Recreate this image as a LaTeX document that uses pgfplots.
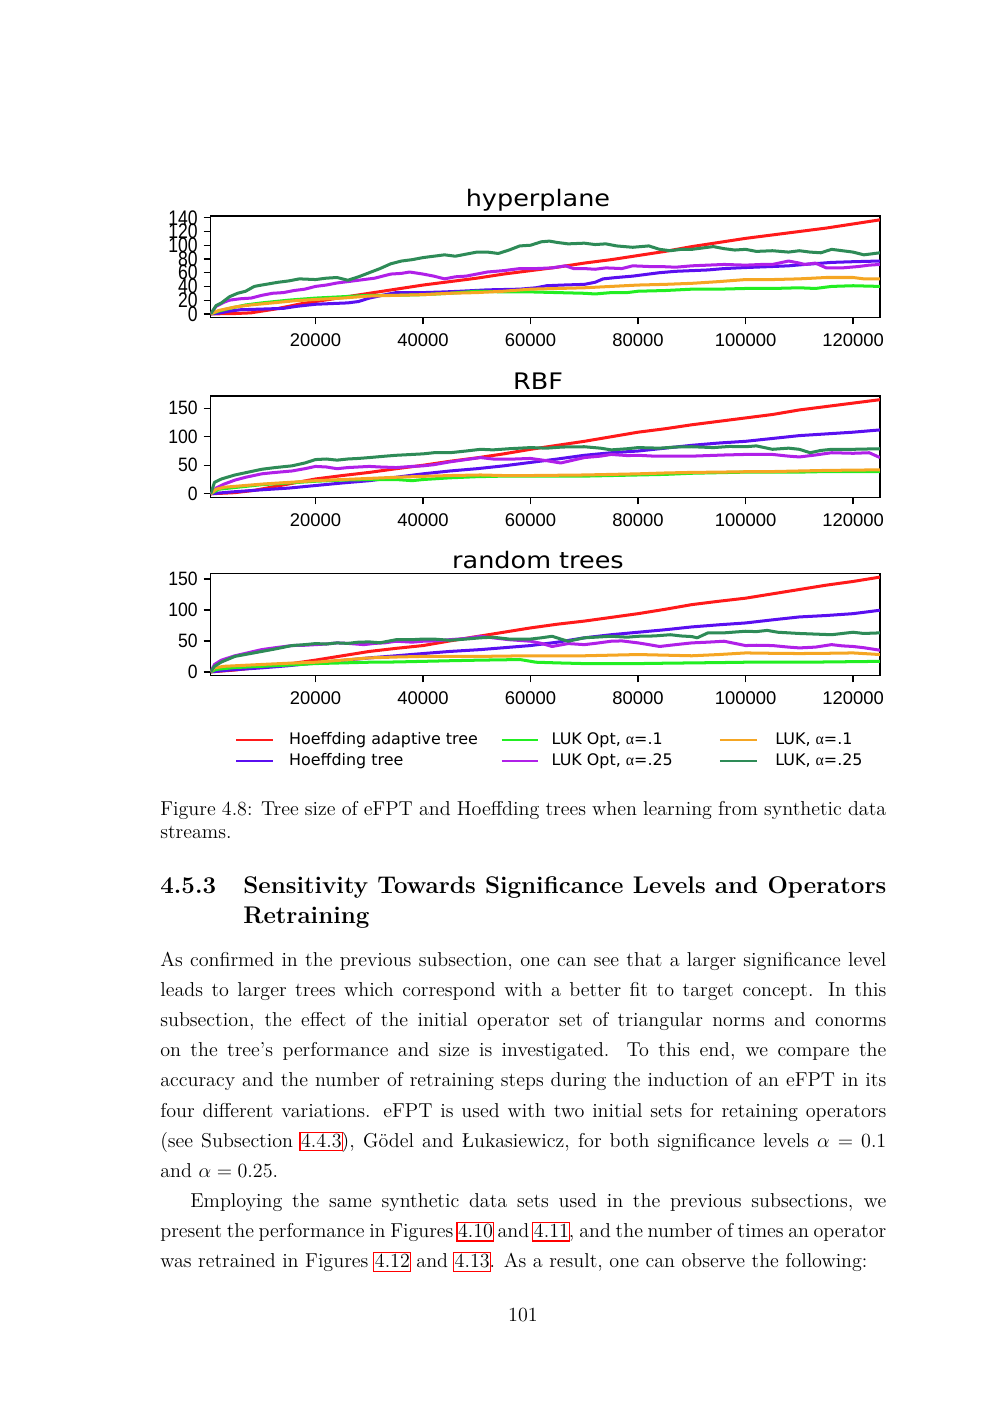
\documentclass[border=0pt]{standalone}
\usepackage{pgfplots}
\pgfplotsset{compat=1.18}
\usepackage{fontspec}
\newfontfamily\dejavu{DejaVu Sans}
\newfontfamily\libsans{Liberation Sans}
\newfontfamily\libserif{Liberation Serif}
\definecolor{cRed}{HTML}{FF1A1A}
\definecolor{cBlue}{HTML}{5A0FF0}
\definecolor{cGreen}{HTML}{22EE22}
\definecolor{cPurple}{HTML}{B020E8}
\definecolor{cOrange}{HTML}{F5A623}
\definecolor{cTeal}{HTML}{2E8B57}
\newcommand\lk[1]{\makebox[0pt][l]{\hspace{-1pt}\textcolor{red}{\fboxsep=0.2pt\fboxrule=0.7pt\fbox{\rule[-1.5pt]{0pt}{10pt}\phantom{#1}}}}#1}
\newcommand\jline[4]{\node[anchor=base west,inner sep=0pt] at (#1pt,-#2pt) {\fontsize{12}{14.5}\selectfont\makebox[#3pt][s]{#4}};}
\newcommand\pline[3]{\node[anchor=base west,inner sep=0pt] at (#1pt,-#2pt) {\fontsize{12}{14.5}\selectfont #3};}
\pgfplotsset{
  myax/.style={scale only axis, width=399.9pt, xmin=500, xmax=125000,
    axis line style={line width=0.75pt},
    every tick/.style={black,line width=0.75pt},
    tick align=outside, tick pos=left, major tick length=4.2pt,
    xtick={20000,40000,60000,80000,100000,120000},
    xticklabels={20000,40000,60000,80000,100000,120000},
    xticklabel style={font=\libsans\fontsize{11}{12}\selectfont, yshift=-1.8pt},
    yticklabel style={font=\libsans\fontsize{10.5}{12}\selectfont},
    title style={at={(0.489,1)}, anchor=base, font=\dejavu\fontsize{13.6}{15}\selectfont, xscale=1.12},
    every axis plot/.append style={line width=1.8pt, line join=round, mark=none},
    scaled x ticks=false, clip=true}
}
\begin{document}
\begin{tikzpicture}
\path[use as bounding box] (0,0) rectangle (597.5pt,-844.9pt);
% ---------------- hyperplane
\begin{axis}[myax, at={(125.9pt,-189.6pt)}, anchor=south west, height=60.5pt,
  ymin=-5, ymax=142.5, ytick={0,20,40,60,80,100,120,140},
  yticklabels={0,20,40,60,80,100,120,140}, yticklabel style={yscale=1.2},
  title={hyperplane}, title style={yshift=0pt}]
\addplot[cRed] coordinates {(500,0) (5000,0.5) (8000,1.5) (10000,4) (12500,7) (15000,11) (17500,15) (20000,18) (25000,24) (30000,30) (35000,36) (40000,42) (45000,47) (50000,52) (52500,55) (55000,58) (60000,63) (65000,68) (70000,74) (75000,79) (80000,85) (85000,91) (90000,98) (95000,104) (100000,110) (105000,115) (110000,120) (115000,125) (120000,131) (125000,137)};
\addplot[cBlue] coordinates {(500,0) (2000,1) (4000,4) (6000,6) (10000,7) (14000,8) (16500,11) (20000,14) (23000,15) (26000,16) (28000,18) (30000,23) (33000,28) (35000,31) (40000,31) (44000,32) (47000,33) (52000,35) (58000,36) (61000,38) (63000,41) (66000,42) (70000,43) (72000,46) (73500,51) (76000,53) (79000,55) (82000,58) (84000,60) (87000,62) (90000,63) (93000,64) (96000,66) (100000,67.5) (105000,69) (108000,70) (111000,72) (116000,75) (120000,76) (125000,77)};
\addplot[cGreen] coordinates {(500,0) (2000,4) (4000,8) (7000,13) (10000,16) (15000,20) (20000,23) (25000,25) (30000,27) (35000,27) (40000,28) (45000,30) (50000,33) (55000,32) (60000,32) (65000,31) (70000,30) (72000,29) (75000,31) (78000,31) (80000,33) (85000,34) (90000,36) (95000,36) (100000,37) (105000,37) (110000,38) (113000,37) (116000,40) (120000,41) (125000,40)};
\addplot[cPurple] coordinates {(500,0) (1500,11) (3000,17) (4000,20) (6000,22) (8000,23) (10000,27) (12000,30) (14000,31) (16000,34) (18000,36) (20000,40) (22000,42) (24000,45) (26000,47) (29000,50) (31000,52) (34000,58) (36000,59) (37500,61) (40000,58) (42000,55) (44000,51) (46000,54) (48000,55) (50000,58) (52000,61) (55000,63) (58000,66) (61000,66) (64000,67) (66500,70) (68000,66) (70000,66) (72000,65) (74000,67) (77000,66) (79000,70) (82000,69) (84000,69) (87000,68) (90000,70) (93000,71) (96000,72) (100000,71) (103000,72) (105000,72) (108000,77) (110000,74) (111000,72) (113000,74) (115000,67) (118000,67) (121000,69) (123000,71) (125000,72)};
\addplot[cOrange] coordinates {(500,0) (2000,5) (5000,10) (8000,13) (12000,16) (16000,19) (20000,21) (25000,23) (30000,26) (35000,27) (40000,28) (45000,30) (50000,31) (55000,33) (60000,36) (65000,37) (70000,38) (75000,40) (80000,42) (85000,43) (90000,44.5) (95000,47) (100000,50) (105000,50) (110000,51) (115000,53) (120000,53) (122000,51) (125000,51)};
\addplot[cTeal] coordinates {(500,0) (1500,12) (2500,16) (4000,25) (5500,30) (7000,33) (8600,40) (10000,42) (13000,46) (15000,48) (17000,51) (20000,50) (22000,52) (24000,53) (26000,49) (28000,54) (30000,60) (32000,66) (34000,73) (36000,77) (38000,79) (40000,82) (42000,84) (44000,86) (46000,84) (48000,87) (50000,90) (52000,90) (54000,88) (56000,93) (58000,99) (60000,100) (62000,105) (63500,106) (65000,104) (67000,102) (70000,103) (72000,101) (74000,102) (76000,99) (79000,97) (82000,99) (84000,94) (86000,92) (88000,94) (90000,94) (92000,96) (94000,98) (96000,95) (98000,93) (100000,94) (102000,91) (105000,92) (108000,90) (110000,92) (112000,90) (114000,89) (116000,94) (118000,92) (120000,90) (122000,86) (125000,89)};
\end{axis}
% ---------------- RBF
\begin{axis}[myax, at={(125.9pt,-297.1pt)}, anchor=south west, height=60.5pt,
  ymin=-6, ymax=171.5, ytick={0,50,100,150}, yticklabels={0,50,100,150},
  yticklabel style={yscale=1.1},
  title={RBF}, title style={yshift=-2.4pt}]
\addplot[cRed] coordinates {(500,0) (5000,2) (8600,6) (12000,12) (16000,19) (20000,26) (25000,32) (30000,37.5) (35000,44) (40000,50) (45000,57) (50000,63) (55000,70) (60000,78) (65000,85) (70000,92) (75000,100) (80000,108) (85000,114) (90000,121) (95000,127) (100000,133) (105000,139) (110000,147) (115000,153) (120000,159) (125000,165)};
\addplot[cBlue] coordinates {(500,0) (4000,3) (10000,7) (15000,10) (20000,14.5) (25000,19) (30000,23) (35000,29) (40000,35) (45000,40) (50000,44) (55000,49) (60000,55) (65000,61) (70000,67.5) (75000,72) (80000,75) (85000,80) (90000,85) (95000,89) (100000,92) (105000,97) (110000,102) (115000,105) (120000,108) (125000,112)};
\addplot[cGreen] coordinates {(500,0) (2000,8) (5000,11) (10000,16) (15000,19) (20000,22) (25000,24) (30000,25) (35000,25) (38000,23) (40000,25) (45000,28) (50000,30) (55000,31) (60000,31) (65000,31) (70000,31) (75000,32) (80000,33) (85000,34) (90000,36) (95000,37) (100000,38) (105000,38) (110000,38) (115000,39) (120000,39) (125000,39)};
\addplot[cPurple] coordinates {(500,0) (1500,10) (3000,17) (5000,24) (7000,29) (10000,35) (12000,37) (15600,40) (18000,44) (20000,48) (22000,47) (24000,44) (26000,46) (28000,47) (30000,48) (32000,47) (35000,46) (38000,48) (40000,49) (42000,51) (45000,56) (48000,60) (50700,63.5) (53000,61) (56000,60.6) (60000,62) (63000,58) (65600,54) (67000,57) (70000,63.5) (73000,66) (75000,69) (78000,67) (80000,67.5) (83000,66) (86000,66) (90000,66) (93000,67) (96000,68) (100000,69) (103000,69) (105000,69) (108000,66) (110000,64.6) (113000,68) (116000,72) (120000,71) (123000,72) (125000,63.5)};
\addplot[cOrange] coordinates {(500,0) (1500,8) (3000,11.5) (10000,17) (15000,20) (20000,23) (25000,25) (30000,27) (35000,29) (40000,30.6) (45000,32) (50700,33) (55000,32) (60000,32) (65000,32.5) (70000,33) (75000,34) (80000,35) (85000,36.5) (90000,37.5) (95000,38) (100000,38.7) (105000,39) (110000,40) (115000,41) (120000,41.5) (125000,42)};
\addplot[cTeal] coordinates {(500,0) (1200,20) (2500,26) (5000,33) (7500,38) (10000,43) (12500,46) (15600,49) (18000,54) (20000,60) (22000,61) (24000,59) (26000,61) (28000,62) (30000,63.5) (33000,66) (35000,67.5) (38000,69) (40000,70) (42000,72) (45000,72) (48000,75) (50700,78) (53000,77) (56000,79) (60000,81) (63000,80) (66000,82) (70000,82.5) (73000,80) (75000,77) (78000,79) (80000,81) (84000,80) (87000,82) (90000,82.5) (94000,81) (97000,83) (100000,82.5) (102000,84) (105000,78) (108000,80) (110000,78) (112000,72) (114000,76) (116000,78) (120000,78) (125000,79)};
\end{axis}
% ---------------- random trees
\begin{axis}[myax, at={(125.9pt,-403.5pt)}, anchor=south west, height=60.7pt,
  ymin=-5.5, ymax=158.5, ytick={0,50,100,150}, yticklabels={0,50,100,150},
  yticklabel style={yscale=1.1},
  title={random trees}, title style={yshift=-2.8pt},
  legend columns=3, legend cell align=left,
  legend image code/.code={\draw[#1, line width=1.2pt] (0pt,0pt) -- (22pt,0pt);},
  legend style={at={(0.0363,-0.561)}, anchor=north west, draw=none, fill=none,
    inner sep=0pt, nodes={inner sep=0pt}, row sep=4pt,
    font=\dejavu\fontsize{9.5}{11}\selectfont,
    /tikz/column 1/.style={column sep=9.0pt},
    /tikz/column 2/.style={column sep=13.5pt},
    /tikz/column 3/.style={column sep=7.4pt},
    /tikz/column 4/.style={column sep=27.6pt},
    /tikz/column 5/.style={column sep=10.5pt}}]
\addlegendimage{cRed}\addlegendentry{Hoeffding adaptive tree}
\addlegendimage{cGreen}\addlegendentry{LUK Opt, {\libserif α}=.1}
\addlegendimage{cOrange}\addlegendentry{LUK, {\libserif α}=.1}
\addlegendimage{cBlue}\addlegendentry{Hoeffding tree}
\addlegendimage{cPurple}\addlegendentry{LUK Opt, {\libserif α}=.25}
\addlegendimage{cTeal}\addlegendentry{LUK, {\libserif α}=.25}
\addplot[cRed, forget plot] coordinates {(500,0) (5000,3) (8600,6.5) (12000,10) (16000,14) (20000,19) (25000,26) (30000,33) (35000,38) (40000,42.5) (45000,50) (50000,57) (55000,64) (60000,71) (65000,77) (70000,82) (75000,88) (80000,94) (85000,101) (90000,108.6) (95000,114) (100000,119) (105000,126) (110000,133) (115000,140) (120000,146) (125000,153)};
\addplot[cBlue, forget plot] coordinates {(500,0) (4000,3) (10000,6.5) (15000,10) (20000,14.5) (25000,18.5) (30000,22.6) (35000,26) (40000,29.6) (45000,33) (50700,36) (55000,39) (60000,42.5) (65000,48) (70000,55) (75000,60) (80000,64) (85000,68) (90000,72.6) (95000,76) (100000,79) (105000,84) (110000,88.7) (115000,91) (120000,94) (125000,99.5)};
\addplot[cGreen, forget plot] coordinates {(500,0) (1500,4) (5000,7) (10000,9) (15000,11) (20000,13.4) (25000,14.5) (30000,15.6) (35000,16) (40000,17) (45000,18) (50700,19) (55000,19.5) (58000,20) (61000,15.6) (65000,14.5) (70000,13.4) (75000,13.4) (80000,13.4) (85000,14) (90000,14.5) (95000,15) (100000,15.6) (105000,15.6) (110000,15.6) (115000,16) (120000,16.5) (125000,17)};
\addplot[cPurple, forget plot] coordinates {(500,0) (1200,12) (2500,19) (5000,26) (7500,31) (10000,36) (12500,39) (15600,42.5) (18000,43) (20000,44) (22000,45) (24000,46.8) (26000,46) (29000,44) (31000,46) (33000,47) (35000,49.5) (38000,48) (40000,49.5) (42000,50) (45000,52) (48000,54) (50700,57.5) (53000,55) (56000,52) (60000,49.5) (62000,46) (64000,41) (67000,45.7) (70000,44) (72000,46) (75000,49.5) (77000,50) (80000,46.8) (82000,44) (84000,41) (87000,44) (90000,46.8) (93000,48) (96000,49.5) (98000,46) (100000,42.5) (102000,43) (105000,42.5) (108000,40) (110000,38.7) (113000,40) (116000,44) (118000,42) (120000,41) (122000,39) (125000,35)};
\addplot[cOrange, forget plot] coordinates {(500,0) (1200,6.5) (3000,9) (10000,12) (15000,14) (20000,15.6) (25000,19) (30000,22.6) (35000,24) (40000,25) (45000,25) (50700,25) (55000,25.5) (60000,26) (65000,26) (70000,26) (75000,27) (80000,28) (85000,27) (90000,26) (95000,28) (100000,30.6) (105000,30) (110000,29.6) (115000,30) (120000,30.6) (125000,28)};
\addplot[cTeal, forget plot] coordinates {(500,0) (1200,9) (2500,16) (5000,25) (7500,29) (10000,33) (12500,37) (15600,42.5) (18000,44) (20000,45.7) (22000,45) (24000,46.8) (26000,46) (28000,48) (30000,48.4) (32000,47) (35000,52) (38000,52) (40000,53) (42000,53) (45000,51) (48000,53) (50700,55) (53000,56) (56000,53) (60000,53) (62000,55) (64000,57.5) (66000,52) (67000,49.5) (70000,55) (72000,56) (75000,57.5) (78000,56) (80000,57.5) (83000,58) (86000,60) (88000,58) (90000,57) (91000,55) (93000,63) (96000,63) (100000,65.6) (102000,65) (104000,67) (106000,64) (108000,63) (110000,62) (113000,61) (116000,60) (118000,62) (120000,64) (122000,62) (125000,63)};
\end{axis}
% ---------------- text
\jline{95.6}{487}{433.8}{Figure 4.8: Tree size of eFPT and Hoeffding trees when learning from synthetic data}
\pline{95.6}{501.3}{streams.}
\node[anchor=base west,inner sep=0pt] at (95.6pt,-533.6pt) {\bfseries\fontsize{14.4}{18}\selectfont 4.5.3};
\node[anchor=base west,inner sep=0pt] at (145.2pt,-533.6pt) {\bfseries\fontsize{14.4}{18}\selectfont\makebox[384.2pt][s]{Sensitivity Towards Significance Levels and Operators}};
\node[anchor=base west,inner sep=0pt] at (145.2pt,-551.6pt) {\bfseries\fontsize{14.4}{18}\selectfont Retraining};
\jline{95.6}{577.5}{433.8}{As confirmed in the previous subsection, one can see that a larger significance level}
\jline{95.6}{595.5}{433.8}{leads to larger trees which correspond with a better fit to target concept. In this}
\jline{95.6}{613.5}{433.8}{subsection, the effect of the initial operator set of triangular norms and conorms}
\jline{95.6}{631.5}{433.8}{on the tree's performance and size is investigated. To this end, we compare the}
\jline{95.6}{649.5}{433.8}{accuracy and the number of retraining steps during the induction of an eFPT in its}
\jline{95.6}{667.5}{433.8}{four different variations. eFPT is used with two initial sets for retaining operators}
\jline{95.6}{685.5}{433.8}{(see Subsection \lk{4.4.3}), Gödel and Łukasiewicz, for both significance levels $\alpha = 0.1$}
\pline{95.6}{703.5}{and $\alpha = 0.25$.}
\jline{113.5}{721.5}{415.9}{Employing the same synthetic data sets used in the previous subsections, we}
\jline{95.6}{739.5}{433.8}{present the performance in Figures \lk{4.10} and \lk{4.11}, and the number of times an operator}
\pline{95.6}{757.5}{was retrained in Figures \lk{4.12} and \lk{4.13}. As a result, one can observe the following:}
\node[anchor=base,inner sep=0pt] at (312.5pt,-789.9pt) {\fontsize{12}{14.5}\selectfont 101};
\end{tikzpicture}
\end{document}
